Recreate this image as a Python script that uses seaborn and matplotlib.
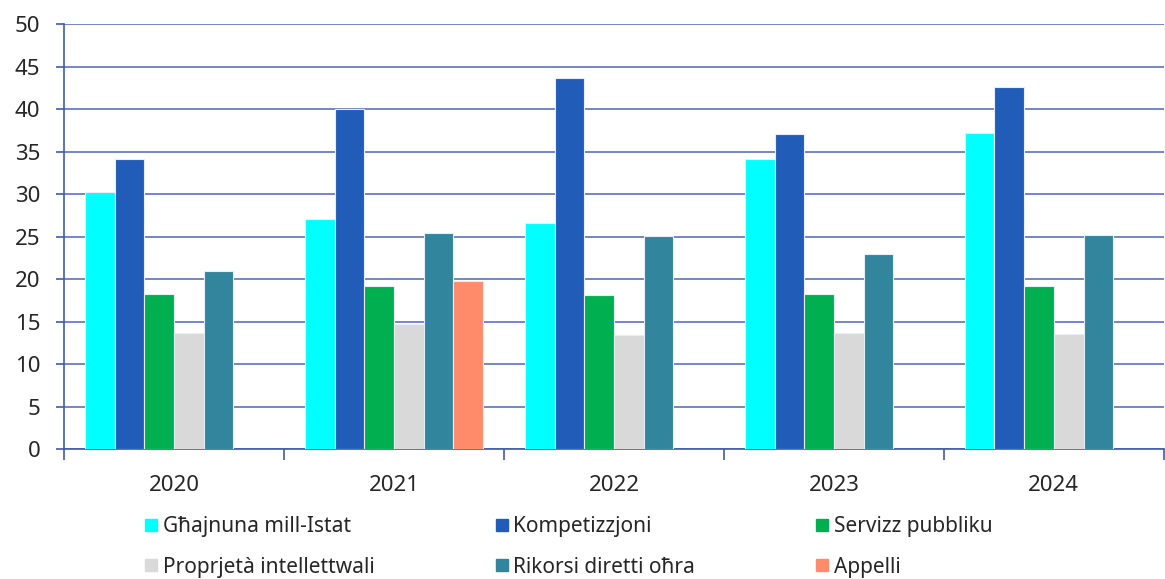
import numpy as np
import pandas as pd
import seaborn as sns
from matplotlib import pyplot as plt
from matplotlib.lines import Line2D
from matplotlib.ticker import FixedLocator

# Data
years = ["2020", "2021", "2022", "2023", "2024"]
categories = ["Għajnuna mill-Istat", "Kompetizzjoni", "Servizz pubbliku",
              "Proprjetà intellettwali", "Rikorsi diretti oħra", "Appelli"]
ghajnuna = [30.2, 27.1, 26.6, 34.1, 37.2]
kompetizzjoni = [34.1, 40.0, 43.7, 37.1, 42.6]
servizz = [18.2, 19.2, 18.1, 18.2, 19.2]
proprjeta = [13.6, 14.7, 13.4, 13.7, 13.5]
rikorsi = [20.9, 25.4, 25.1, 22.9, 25.2]
appelli = [np.nan, 19.8, np.nan, np.nan, np.nan]
colors = ["#00FFFF", "#215DB8", "#00B050", "#D9D9D9", "#31859C", "#FF8B6B"]

series = [ghajnuna, kompetizzjoni, servizz, proprjeta, rikorsi, appelli]
rows = []
for cat, vals in zip(categories, series):
    for yr, v in zip(years, vals):
        rows.append({"year": yr, "category": cat, "value": v})
df = pd.DataFrame(rows).dropna()

sns.set_style("white")
plt.rcParams["font.family"] = ["Noto Sans", "DejaVu Sans"]
grid_col = "#3F5BB0"

fig = plt.figure(figsize=(11.65, 5.79), dpi=100)
ax = fig.add_axes([0.055, 0.2245, 0.944, 0.734])

sns.barplot(data=df, x="year", y="value", hue="category", order=years,
            hue_order=categories, palette=colors, saturation=1, width=0.81,
            edgecolor="#E8EEF8", linewidth=0.8, legend=False, ax=ax,
            zorder=3)

ax.set_ylim(0, 50)
ax.set_xlim(-0.5, 4.5)
ax.set_yticks(range(0, 51, 5))
ax.set_xlabel("")
ax.set_ylabel("")
ax.yaxis.grid(True, color=grid_col, linewidth=1.2, alpha=0.85, zorder=0)
ax.set_axisbelow(True)
for s in ["top", "right"]:
    ax.spines[s].set_visible(False)
for s in ["left", "bottom"]:
    ax.spines[s].set_color(grid_col)
    ax.spines[s].set_linewidth(1.2)

ax.tick_params(axis="y", length=6, color=grid_col, width=1.2,
               labelsize=16, pad=11, left=True)
ax.tick_params(axis="x", which="major", length=0, labelsize=16, pad=19)
ax.xaxis.set_minor_locator(FixedLocator(np.arange(-0.5, 5, 1)))
ax.tick_params(axis="x", which="minor", length=8, color=grid_col,
               width=1.2, bottom=True)

handles = [Line2D([], [], marker="s", linestyle="none", markersize=9,
                  markerfacecolor=c, markeredgecolor=c) for c in colors]
order = [0, 3, 1, 4, 2, 5]
fig.legend([handles[i] for i in order], [categories[i] for i in order],
           ncol=3, loc="lower left", bbox_to_anchor=(0.105, -0.03),
           frameon=False, fontsize=15, handletextpad=0.05,
           columnspacing=5.6, labelspacing=0.95, handlelength=1.0)

fig.savefig("out.png", dpi=100)
